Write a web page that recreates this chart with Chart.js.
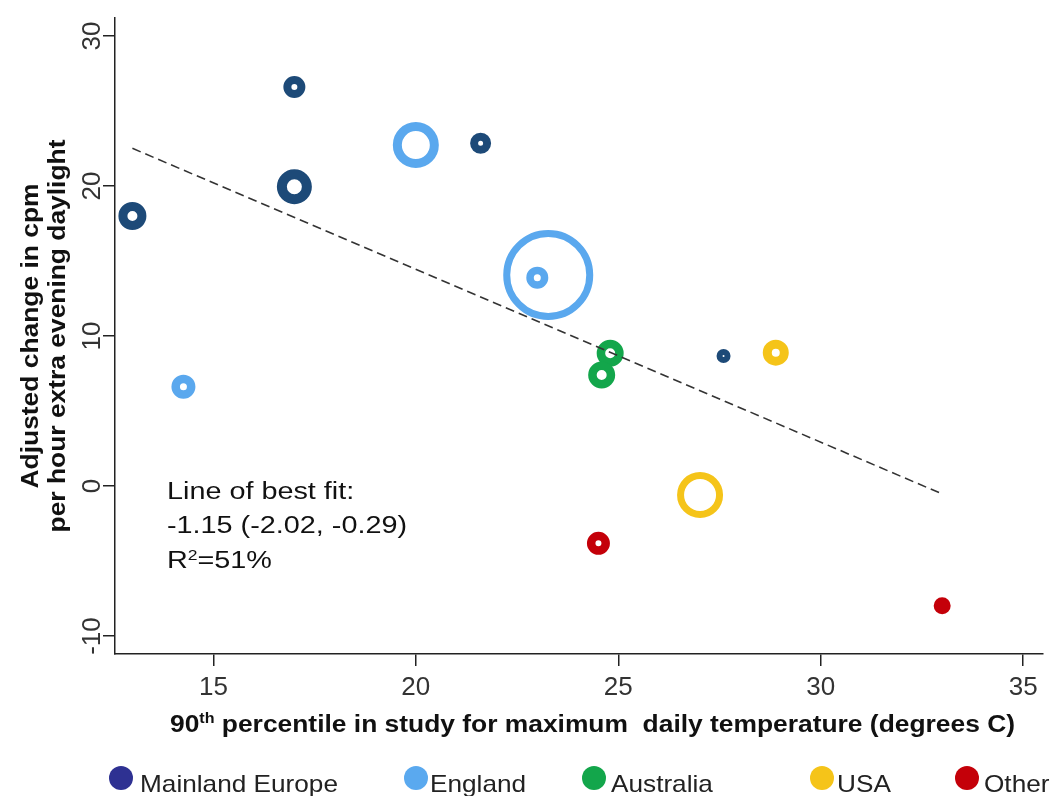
<!DOCTYPE html>
<html lang="en">
<head>
    <meta charset="UTF-8">
    <title>Daylight change vs temperature</title>
    <script src="https://cdn.jsdelivr.net/npm/chart.js"></script>
    <style>
        html, body { margin: 0; padding: 0; background: #fff; }
        #wrap { width: 1054px; height: 796px; }
    </style>
</head>
<body>
    <div id="wrap"><canvas id="dataChart" width="1054" height="796"></canvas></div>

    <script>
        // values
        const regions = ['Mainland Europe', 'England', 'Australia', 'USA', 'Other'];
        const studyRegion = [0, 0, 0, 0, 0, 1, 1, 1, 1, 2, 2, 3, 3, 4, 4];
        const tempP90 = [13.0, 17.0, 17.0, 21.6, 27.6, 20.0, 23.27, 23.0, 14.26, 24.8, 24.59, 28.89, 27.02, 24.51, 33.0];
        const cpmChange = [18.0, 26.6, 19.95, 22.85, 8.67, 22.73, 14.07, 13.89, 6.62, 8.85, 7.4, 8.89, -0.6, -3.82, -7.98];
        const fitX = [13.0, 32.93];
        const fitY = [22.51, -0.45];
        const xTickValues = [15, 20, 25, 30, 35];
        const yTickValues = [-10, 0, 10, 20, 30];

        // marker look (outer / inner radius of each ring, px)
        const ringOuter = [14, 11, 17.5, 10.5, 7, 23, 45, 11, 12, 13.5, 13.5, 13, 23, 11.5, 8.5];
        const ringInner = [5, 3, 7.5, 2.5, 1, 14, 38, 3.5, 3.5, 5, 5, 4, 16, 3, 0];
        const markerColors = ['#1d4a78', '#5aa8ee', '#13a64b', '#f5c419', '#c40009'];
        const legendColors = ['#2e3192', '#5aa9ef', '#13a64b', '#f5c419', '#c40009'];
        const legendDotX = [121, 416, 594, 822, 967];
        const legendTextX = [140, 430, 611, 837, 984];

        const FONT = "'Liberation Sans', Arial, sans-serif";

        const datasets = regions.map((name, r) => {
            const idx = studyRegion.map((g, i) => g === r ? i : -1).filter(i => i >= 0);
            return {
                type: 'scatter',
                label: name,
                order: 1,
                data: idx.map(i => ({ x: tempP90[i], y: cpmChange[i] })),
                pointRadius: idx.map(i => (ringOuter[i] + ringInner[i]) / 2),
                pointHoverRadius: idx.map(i => (ringOuter[i] + ringInner[i]) / 2),
                pointBorderWidth: idx.map(i => ringOuter[i] - ringInner[i]),
                pointHoverBorderWidth: idx.map(i => ringOuter[i] - ringInner[i]),
                pointBorderColor: markerColors[r],
                pointBackgroundColor: 'rgba(255,255,255,0)',
                clip: false
            };
        });

        datasets.push({
            type: 'line',
            label: 'fit',
            order: 0,
            data: fitX.map((x, i) => ({ x: x, y: fitY[i] })),
            borderColor: '#333',
            borderWidth: 1.6,
            borderDash: [9, 5],
            pointRadius: 0,
            fill: false
        });

        // draw text horizontally stretched by sx, in runs (for superscripts)
        function runsWidth(ctx, runs) {
            let w = 0;
            runs.forEach(r => { ctx.font = r.font; w += ctx.measureText(r.t).width; });
            return w;
        }
        function drawRuns(ctx, runs, x, y, sx) {
            ctx.save();
            ctx.translate(x, y);
            ctx.scale(sx, 1);
            let cx = 0;
            runs.forEach(r => {
                ctx.font = r.font;
                ctx.fillText(r.t, cx, r.dy || 0);
                cx += ctx.measureText(r.t).width;
            });
            ctx.restore();
        }

        // keep the plot box where the reference has it
        function noPad(s) {
            s.paddingTop = 0; s.paddingBottom = 0;
            s.paddingLeft = 0; s.paddingRight = 0;
        }

        const decorations = {
            id: 'decorations',
            afterDraw(chart) {
                const ctx = chart.ctx;
                const area = chart.chartArea;
                const ys = chart.scales.y;
                ctx.save();
                ctx.fillStyle = '#333';
                ctx.textBaseline = 'middle';
                ctx.textAlign = 'center';
                ctx.font = '26px ' + FONT;
                // y tick labels, rotated
                ys.ticks.forEach(t => {
                    const py = ys.getPixelForValue(t.value);
                    ctx.save();
                    ctx.translate(93, py);
                    ctx.rotate(-Math.PI / 2);
                    ctx.fillText(String(t.value), 0, 0);
                    ctx.restore();
                });

                ctx.textAlign = 'left';
                ctx.textBaseline = 'alphabetic';
                ctx.fillStyle = '#111';

                // x axis title
                const bold = 'bold 23px ' + FONT;
                const supB = 'bold 14px ' + FONT;
                const xTitle = [
                    { t: '90', font: bold },
                    { t: 'th', font: supB, dy: -9 },
                    { t: ' percentile in study for maximum  daily temperature (degrees C)', font: bold }
                ];
                const sxT = 845 / runsWidth(ctx, xTitle);
                drawRuns(ctx, xTitle, 170, 732, sxT);

                // y axis title, two rotated lines
                const yLines = ['Adjusted change in cpm', 'per hour extra evening daylight'];
                const yBase = [38, 65];
                const cy = (area.top + area.bottom) / 2;
                yLines.forEach((s, i) => {
                    ctx.save();
                    ctx.translate(yBase[i], cy);
                    ctx.rotate(-Math.PI / 2);
                    ctx.font = bold;
                    const w = ctx.measureText(s).width * sxT;
                    drawRuns(ctx, [{ t: s, font: bold }], -w / 2, 0, sxT);
                    ctx.restore();
                });

                // fit annotation
                const reg = '23px ' + FONT;
                const sup = '14px ' + FONT;
                const line2 = [{ t: '-1.15 (-2.02, -0.29)', font: reg }];
                const sxA = 240 / runsWidth(ctx, line2);
                drawRuns(ctx, [{ t: 'Line of best fit:', font: reg }], 167, 499, sxA);
                drawRuns(ctx, line2, 167, 533, sxA);
                drawRuns(ctx, [{ t: 'R', font: reg }, { t: '2', font: sup, dy: -8 }, { t: '=51%', font: reg }], 167, 568, sxA);

                // legend
                const legFont = '24px ' + FONT;
                const sxL = 198 / runsWidth(ctx, [{ t: regions[0], font: legFont }]);
                regions.forEach((name, i) => {
                    ctx.beginPath();
                    ctx.fillStyle = legendColors[i];
                    ctx.arc(legendDotX[i], 778, 12, 0, Math.PI * 2);
                    ctx.fill();
                    ctx.fillStyle = '#222';
                    drawRuns(ctx, [{ t: name, font: legFont }], legendTextX[i], 792, sxL);
                });
                ctx.restore();
            }
        };

        const ctx = document.getElementById('dataChart').getContext('2d');
        new Chart(ctx, {
            data: { datasets: datasets },
            options: {
                responsive: false,
                animation: false,
                events: [],
                layout: { autoPadding: false, padding: { top: 18, right: 11, left: 0, bottom: 0 } },
                plugins: {
                    legend: { display: false },
                    tooltip: { enabled: false }
                },
                scales: {
                    x: {
                        type: 'linear',
                        min: 12.57,
                        max: 35.49,
                        afterBuildTicks: s => { s.ticks = xTickValues.map(v => ({ value: v })); },
                        afterFit: s => { s.height = 142; noPad(s); },
                        grid: { drawOnChartArea: false, drawTicks: true, tickLength: 12, color: '#222', lineWidth: 1.5 },
                        border: { display: true, color: '#222', width: 1.5 },
                        ticks: {
                            padding: 6,
                            color: '#333',
                            font: { family: FONT, size: 26 },
                            maxRotation: 0
                        }
                    },
                    y: {
                        type: 'linear',
                        min: -11.2,
                        max: 31.2,
                        afterBuildTicks: s => { s.ticks = yTickValues.map(v => ({ value: v })); },
                        afterFit: s => { s.width = 115; noPad(s); },
                        grid: { drawOnChartArea: false, drawTicks: true, tickLength: 12, color: '#222', lineWidth: 1.5 },
                        border: { display: true, color: '#222', width: 1.5 },
                        ticks: { color: 'rgba(0,0,0,0)', font: { family: FONT, size: 26 } }
                    }
                }
            },
            plugins: [decorations]
        });
    </script>
</body>
</html>
